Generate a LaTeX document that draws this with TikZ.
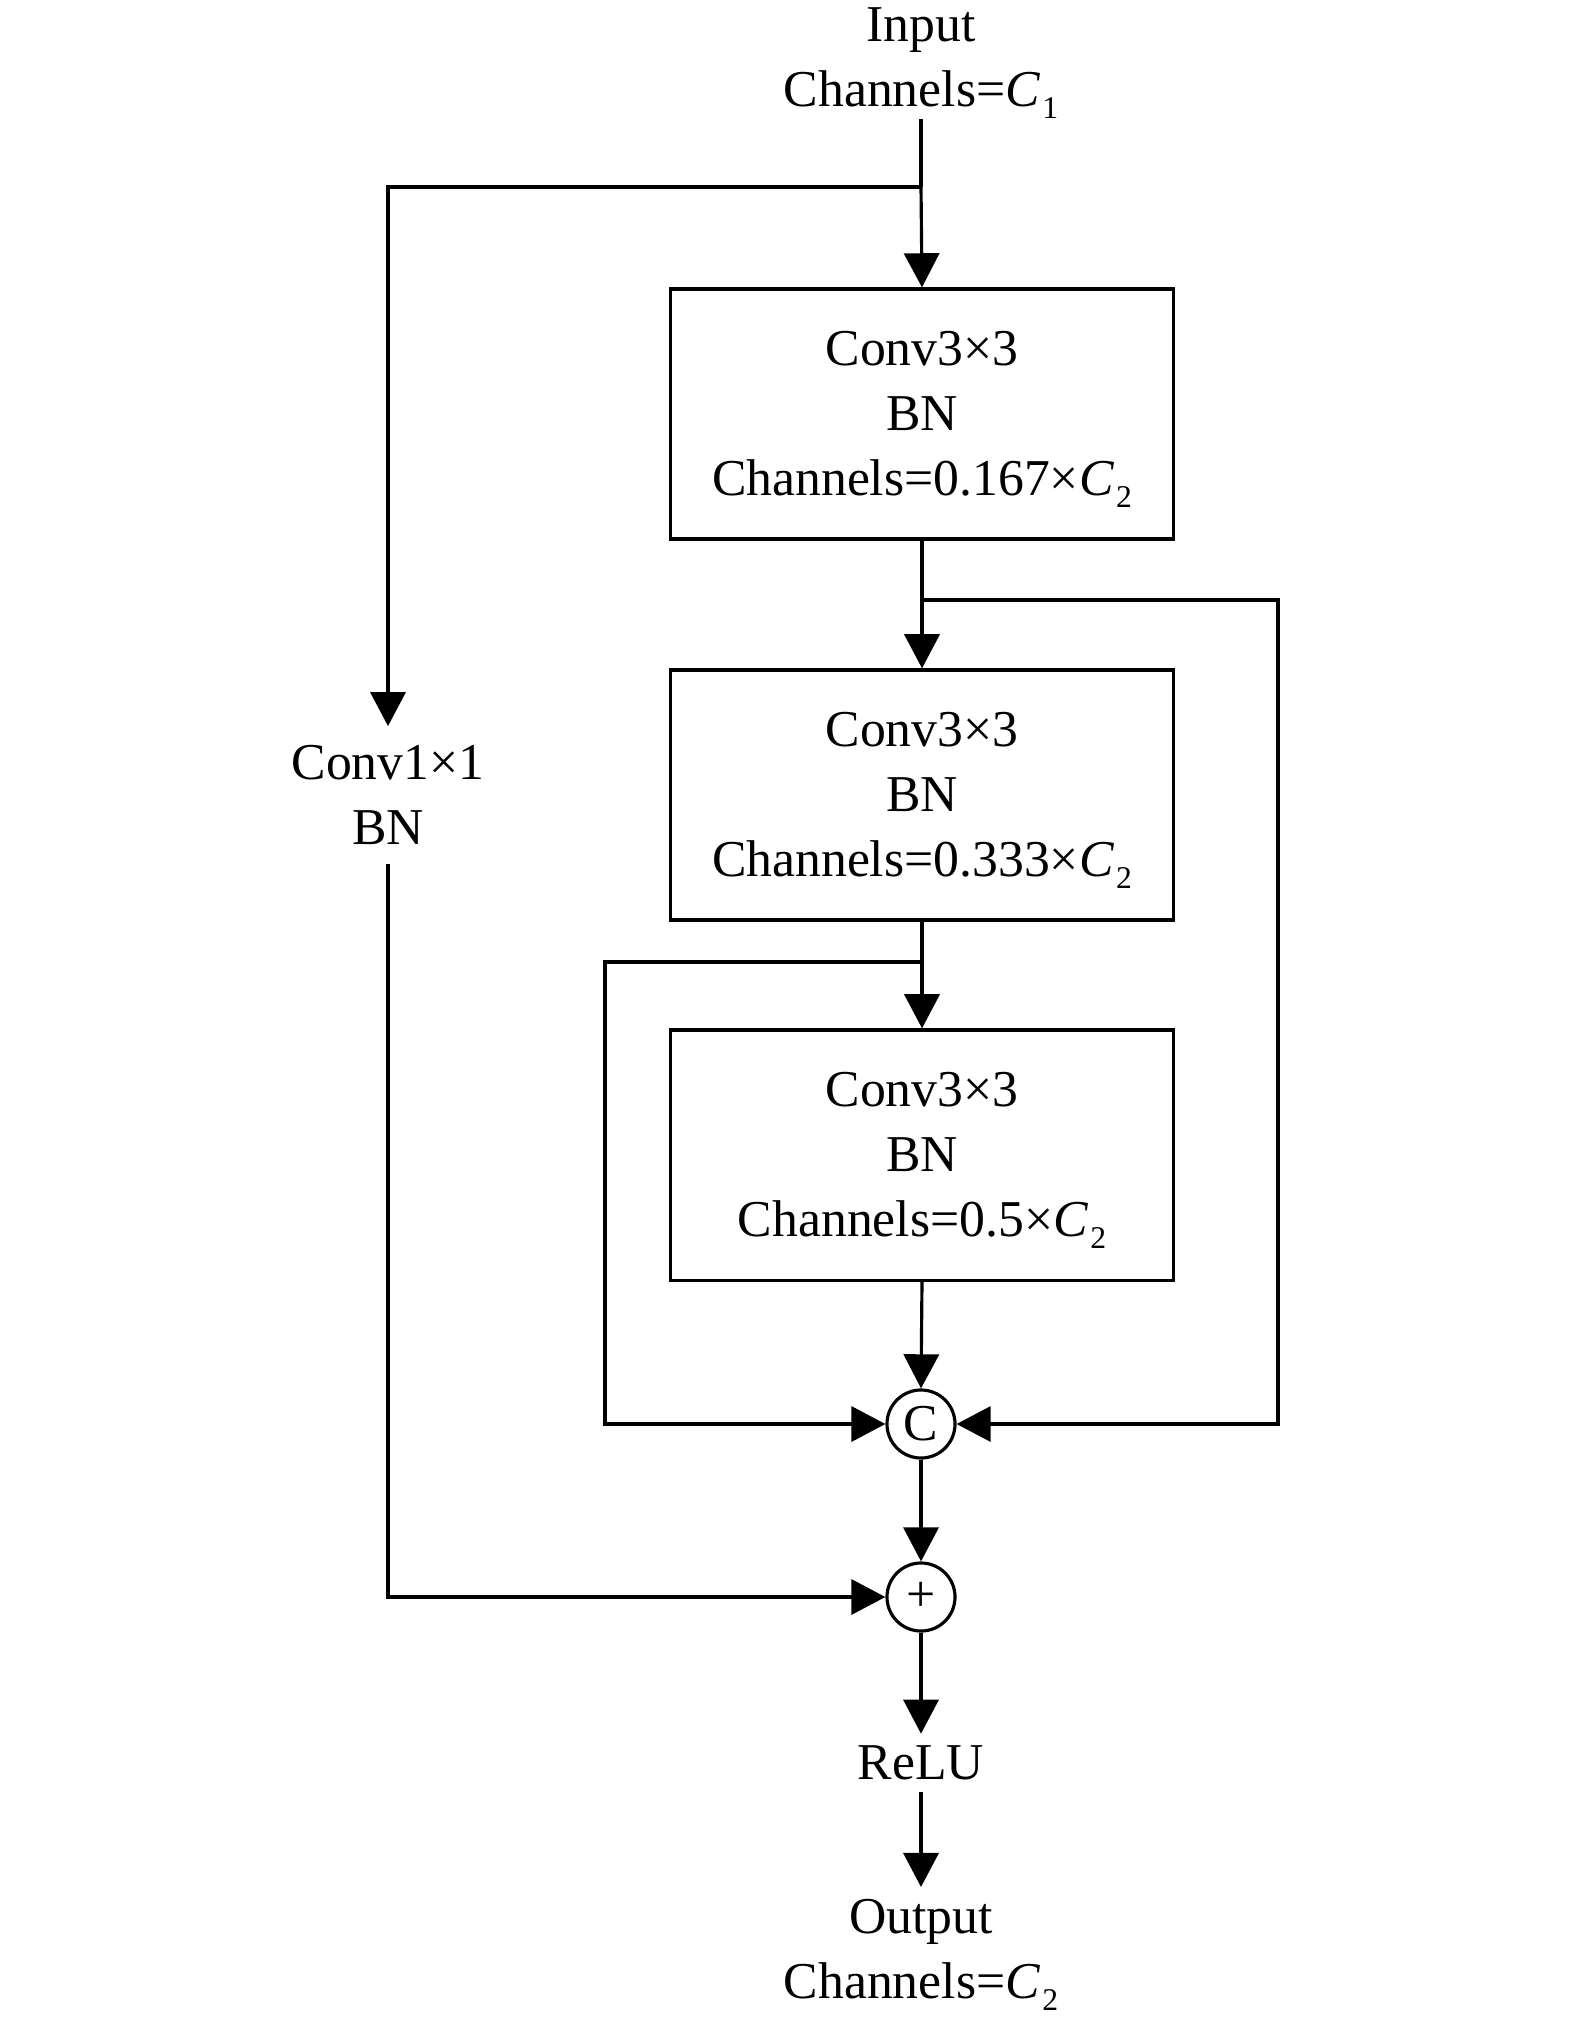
\documentclass[tikz,border=0pt]{standalone}
\usepackage{fontspec}
\setmainfont{Liberation Serif}
\usetikzlibrary{arrows.meta}
\newcommand{\chsub}[1]{\kern0.6pt\raisebox{-3.4pt}[0pt][0pt]{\fontsize{9pt}{10pt}\selectfont #1}}
\begin{document}
\begin{tikzpicture}[x=0.01cm, y=-0.01cm, line width=0.9pt,
		font=\fontsize{14.7pt}{18.5pt}\selectfont, >={Triangle[width=10pt,length=9.7pt]},
		block/.style={draw, rectangle, minimum width=5.02cm, minimum height=2.5cm, align=center, inner sep=0pt},
		term/.style={align=center, inner sep=3pt},
		opnode/.style={draw, circle, minimum size=0.68cm, inner sep=0pt}]
	\useasboundingbox (0,0) rectangle (1575,2022);
	
	% Vao va ra
	\node[term] (in) at (921,57) {Input\\Channels=\textit{C}\chsub{1}};
	\node[term] (out) at (921,1949) {Output\\Channels=\textit{C}\chsub{2}};
	\node[term] (relu) at (921,1763) {ReLU};
	
	% Cac khoi Conv3x3
	\node[block] (b1) at (922,414) {Conv3×3\\BN\\Channels=0.167×\textit{C}\chsub{2}};
	\node[block] (b2) at (922,795) {Conv3×3\\BN\\Channels=0.333×\textit{C}\chsub{2}};
	\node[block] (b3) at (922,1155) {Conv3×3\\BN\\Channels=0.5×\textit{C}\chsub{2}};
	
	% Nhanh Conv1x1
	\node[align=center, inner sep=5pt] (sc) at (388,795) {Conv1×1\\BN};
	
	% Noi va cong
	\node[opnode] (cat) at (921,1424) {C};
	\node[opnode] (add) at (921,1597) {+};
	
	% Diem re nhanh
	\coordinate (s1) at (921,187);
	\coordinate (s2) at (921,600);
	\coordinate (s3) at (921,962);
	
	% Cac mui ten
	\draw (in.south) -- (s1);
	\draw[->] (s1) -- (b1.north);
	\draw[->] (s1) -| (sc.north);
	\draw[->] (b1.south) -- (b2.north);
	\draw[->] (b2.south) -- (b3.north);
	\draw[->] (b3.south) -- (cat.north);
	\draw[->] (s2) -- (1278,600) |- (cat.east);
	\draw[->] (s3) -- (605,962) |- (cat.west);
	\draw[->] (cat.south) -- (add.north);
	\draw[->] (sc.south) |- (add.west);
	\draw[->] (add.south) -- (relu.north);
	\draw[->] (relu.south) -- (out.north);
\end{tikzpicture}
\end{document}
